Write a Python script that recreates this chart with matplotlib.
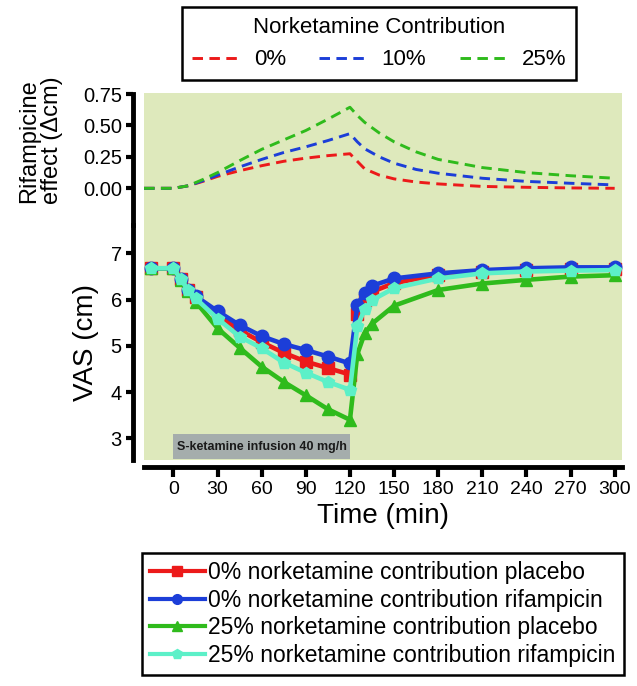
import matplotlib
matplotlib.use("Agg")
import matplotlib.pyplot as plt
from matplotlib.lines import Line2D
from matplotlib.patches import Rectangle

plt.rcParams['font.family'] = ['Liberation Sans', 'DejaVu Sans']

# rifampicine effect (top panel, model curves)
t_eff = [-20, 0, 10, 20, 30, 45, 60, 75, 90, 105, 120, 125, 130, 140, 150, 165, 180, 210, 240, 270, 300]
eff_0 = [0, 0, 0.02, 0.055, 0.095, 0.14, 0.18, 0.215, 0.24, 0.26, 0.275, 0.215, 0.155, 0.105, 0.075, 0.05, 0.035, 0.015, 0.008, 0.003, 0.0]
eff_10 = [0, 0, 0.02, 0.06, 0.105, 0.17, 0.23, 0.285, 0.33, 0.38, 0.435, 0.37, 0.315, 0.25, 0.20, 0.15, 0.12, 0.08, 0.055, 0.04, 0.027]
eff_25 = [0, 0, 0.02, 0.07, 0.125, 0.22, 0.31, 0.385, 0.46, 0.55, 0.645, 0.58, 0.525, 0.44, 0.37, 0.29, 0.23, 0.165, 0.125, 0.10, 0.08]
eff_labels = ['0%', '10%', '25%']

# VAS (bottom panel)
t_vas = [-15, 0, 5, 10, 15, 30, 45, 60, 75, 90, 105, 120, 125, 130, 135, 150, 180, 210, 240, 270, 300]
vas_0_plac = [6.68, 6.68, 6.44, 6.22, 6.05, 5.66, 5.34, 5.08, 4.85, 4.66, 4.52, 4.38, 5.68, 5.99, 6.17, 6.36, 6.53, 6.60, 6.64, 6.66, 6.67]
vas_0_rif = [6.68, 6.68, 6.44, 6.22, 6.08, 5.75, 5.45, 5.21, 5.04, 4.91, 4.77, 4.62, 5.89, 6.15, 6.30, 6.46, 6.57, 6.64, 6.68, 6.70, 6.70]
vas_25_plac = [6.68, 6.68, 6.42, 6.18, 5.96, 5.38, 4.96, 4.55, 4.22, 3.93, 3.63, 3.40, 4.82, 5.27, 5.48, 5.87, 6.21, 6.35, 6.43, 6.50, 6.53]
vas_25_rif = [6.68, 6.68, 6.44, 6.21, 6.03, 5.59, 5.20, 4.95, 4.64, 4.42, 4.22, 4.05, 5.42, 5.79, 5.99, 6.25, 6.46, 6.57, 6.61, 6.63, 6.64]
vas_labels = ['0% norketamine contribution placebo',
              '0% norketamine contribution rifampicin',
              '25% norketamine contribution placebo',
              '25% norketamine contribution rifampicin']

bg = '#dee9bc'
red = '#ec1a1a'
blue = '#1c3ed8'
green = '#2fbb1c'
cyan = '#5cf0c8'

fig = plt.figure(figsize=(6.37, 6.86), dpi=100)
ax1 = fig.add_axes([0.2261, 0.67201, 0.7504, 0.19198])
ax2 = fig.add_axes([0.2261, 0.32945, 0.7504, 0.34257])

for ax in (ax1, ax2):
    ax.set_facecolor(bg)
    ax.set_xlim(-20, 305)
    for s in ('top', 'right'):
        ax.spines[s].set_visible(False)
    ax.spines['left'].set_position(('outward', 8))
    ax.spines['left'].set_linewidth(3.5)
    ax.tick_params(axis='both', width=3, length=5, labelsize=14.5, pad=3)

# top panel
ax1.spines['bottom'].set_visible(False)
ax1.set_xticks([])
ax1.set_ylim(-0.292, 0.756)
ax1.spines['left'].set_bounds(-0.292, 0.75)
ax1.set_yticks([0, 0.25, 0.5, 0.75])
ax1.set_yticklabels(['0.00', '0.25', '0.50', '0.75'])
dash = (3.6, 2.2)
l0, = ax1.plot(t_eff, eff_0, color=red, lw=2.1, dashes=dash)
l1, = ax1.plot(t_eff, eff_10, color=blue, lw=2.1, dashes=dash)
l2, = ax1.plot(t_eff, eff_25, color=green, lw=2.1, dashes=dash)
fig.text(0.064, 0.795, 'Rifampicine\neffect (\u0394cm)', rotation=90, ha='center', va='center',
         fontsize=17, linespacing=1.05)

# bottom panel
ax2.set_ylim(2.53, 7.617)
ax2.set_yticks([3, 4, 5, 6, 7])
ax2.set_xticks(range(0, 301, 30))
ax2.spines['bottom'].set_position(('outward', 5))
ax2.spines['bottom'].set_linewidth(3.5)
ax2.tick_params(axis='x', length=7, labelsize=14)
ax2.set_ylabel('VAS (cm)', fontsize=20, labelpad=8)
ax2.set_xlabel('Time (min)', fontsize=20, labelpad=4)

ax2.add_patch(Rectangle((0, 2.545), 120, 3.09 - 2.545, facecolor='#a5adac', edgecolor='none', zorder=1))
ax2.text(60, 2.82, 'S-ketamine infusion 40 mg/h', ha='center', va='center', fontsize=9,
         fontweight='bold', color='#1a1a1a', zorder=2)

kw = dict(lw=3.3, markersize=9, zorder=3)
h0, = ax2.plot(t_vas, vas_0_plac, color=red, marker='s', **kw)
h1, = ax2.plot(t_vas, vas_0_rif, color=blue, marker='o', **kw)
h2, = ax2.plot(t_vas, vas_25_plac, color=green, marker='^', **kw)
h3, = ax2.plot(t_vas, vas_25_rif, color=cyan, marker='p', **kw)

leg1 = fig.legend([l0, l1, l2], eff_labels, loc='center', bbox_to_anchor=(0.595, 0.936),
                  ncol=3, title='Norketamine Contribution', fontsize=16, title_fontsize=16,
                  frameon=True, fancybox=False, edgecolor='black', framealpha=1,
                  handlelength=2.2, handletextpad=0.6, columnspacing=1.5, borderpad=0.45)
leg1.get_frame().set_linewidth(1.8)

lh = [Line2D([], [], color=h.get_color(), marker=h.get_marker(), lw=3, markersize=7)
      for h in (h0, h1, h2, h3)]
leg2 = fig.legend(lh, vas_labels, loc='center', bbox_to_anchor=(0.601, 0.105),
                  fontsize=16.5, frameon=True, fancybox=False, edgecolor='black', framealpha=1,
                  handlelength=2.4, handletextpad=0.15, labelspacing=0.2, borderpad=0.35)
leg2.get_frame().set_linewidth(1.8)

fig.savefig('out.png', dpi=100)
